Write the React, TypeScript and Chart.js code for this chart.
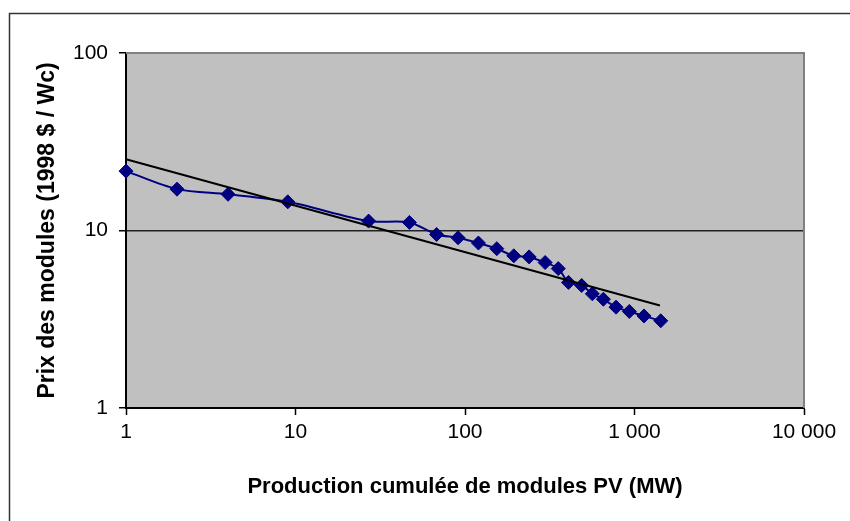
import React, { useEffect, useRef } from "react";
import { Chart, registerables } from "chart.js";

Chart.register(...registerables);

// Cumulative PV module production (MW) and module price (1998 $/Wc)
const capacityMW = [1, 2, 4, 9, 27, 47, 68, 91, 120, 154, 194, 239, 297, 355, 408, 488, 564, 655, 778, 932, 1138, 1428];
const priceUSD = [21.6, 17.1, 16.0, 14.5, 11.3, 11.1, 9.5, 9.1, 8.5, 7.9, 7.2, 7.1, 6.6, 6.1, 5.1, 4.9, 4.4, 4.1, 3.7, 3.5, 3.3, 3.1];

// Power-law trend line end points
const trendX = [1, 1413];
const trendY = [25.2, 3.78];

const xTickValues = [1, 10, 100, 1000, 10000];
const xTickLabels = ["1", "10", "100", "1 000", "10 000"];
const yTickValues = [1, 10, 100];
const yTickLabels = ["1", "10", "100"];

const FONT = "'Liberation Sans', Arial, Helvetica, sans-serif";

export default function App() {
  const ref = useRef<HTMLCanvasElement>(null);

  useEffect(() => {
    document.body.style.margin = "0";
    const canvas = ref.current;
    if (!canvas) return;

    const bgPlugin = {
      id: "bgPlugin",
      beforeDraw(chart: any) {
        const { ctx, chartArea: a } = chart;
        ctx.save();
        ctx.fillStyle = "#ffffff";
        ctx.fillRect(0, 0, chart.width, chart.height);
        ctx.fillStyle = "#C0C0C0";
        ctx.fillRect(a.left, a.top, a.right - a.left, a.bottom - a.top);
        // outer frame
        ctx.strokeStyle = "#333333";
        ctx.lineWidth = 1.5;
        ctx.strokeRect(9.5, 13.5, 1000, 1000);
        ctx.restore();
      },
      beforeDatasetsDraw(chart: any) {
        const { ctx, chartArea: a } = chart;
        ctx.save();
        ctx.strokeStyle = "#808080";
        ctx.lineWidth = 2;
        ctx.beginPath();
        ctx.moveTo(a.left, a.top);
        ctx.lineTo(a.right, a.top);
        ctx.lineTo(a.right, a.bottom);
        ctx.stroke();
        ctx.restore();
      },
    };

    const chart = new Chart(canvas, {
      type: "line",
      data: {
        datasets: [
          {
            label: "Tendance",
            data: trendX.map((x, i) => ({ x, y: trendY[i] })),
            borderColor: "#000000",
            borderWidth: 2,
            pointRadius: 0,
            fill: false,
            tension: 0,
            clip: false as any,
          },
          {
            label: "Prix",
            data: capacityMW.map((x, i) => ({ x, y: priceUSD[i] })),
            borderColor: "#000080",
            backgroundColor: "#000080",
            borderWidth: 2,
            pointStyle: "rectRot",
            pointRadius: 7,
            pointBorderWidth: 1,
            pointBorderColor: "#000080",
            pointBackgroundColor: "#000080",
            tension: 0.3,
            fill: false,
            clip: false as any,
          },
        ],
      },
      options: {
        animation: false,
        responsive: true,
        maintainAspectRatio: false,
        layout: { padding: { left: 0, top: 53, right: 46, bottom: 0 } },
        plugins: { legend: { display: false }, tooltip: { enabled: false } },
        scales: {
          x: {
            type: "logarithmic",
            min: 1,
            max: 10000,
            afterBuildTicks: (scale: any) => {
              scale.ticks = xTickValues.map((v) => ({ value: v }));
            },
            afterFit: (scale: any) => {
              scale.height = 113;
            },
            ticks: {
              autoSkip: false,
              maxRotation: 0,
              padding: 5,
              color: "#000000",
              font: { family: FONT, size: 21 },
              callback: (v: any) => {
                const i = xTickValues.indexOf(Number(v));
                return i >= 0 ? xTickLabels[i] : null;
              },
            },
            grid: {
              drawOnChartArea: false,
              drawTicks: true,
              tickLength: 7,
              tickColor: "#000000",
              tickWidth: 1.5,
            },
            border: { color: "#000000", width: 2 },
            title: {
              display: true,
              text: "Production cumulée de modules PV (MW)",
              color: "#000000",
              font: { family: FONT, size: 22, weight: "bold" },
              padding: { top: 0, bottom: 21 },
            },
          },
          y: {
            type: "logarithmic",
            min: 1,
            max: 100,
            afterBuildTicks: (scale: any) => {
              scale.ticks = yTickValues.map((v) => ({ value: v }));
            },
            afterFit: (scale: any) => {
              scale.width = 126;
            },
            ticks: {
              autoSkip: false,
              padding: 11,
              color: "#000000",
              font: { family: FONT, size: 21 },
              callback: (v: any) => {
                const i = yTickValues.indexOf(Number(v));
                return i >= 0 ? yTickLabels[i] : null;
              },
            },
            grid: {
              drawOnChartArea: true,
              drawTicks: true,
              tickLength: 7,
              tickColor: "#000000",
              tickWidth: 1.5,
              lineWidth: 1.5,
              color: (ctx: any) => (ctx.tick && ctx.tick.value === 100 ? "#808080" : "#222222"),
            },
            border: { color: "#000000", width: 2 },
            title: {
              display: true,
              text: "Prix des modules (1998 $ / Wc)",
              color: "#000000",
              font: { family: FONT, size: 23, weight: "bold" },
              padding: { top: 34, bottom: 0 },
            },
          },
        },
      },
      plugins: [bgPlugin],
    });

    return () => chart.destroy();
  }, []);

  return (
    <div style={{ position: "relative", width: "850px", height: "521px" }}>
      <canvas ref={ref} />
    </div>
  );
}
